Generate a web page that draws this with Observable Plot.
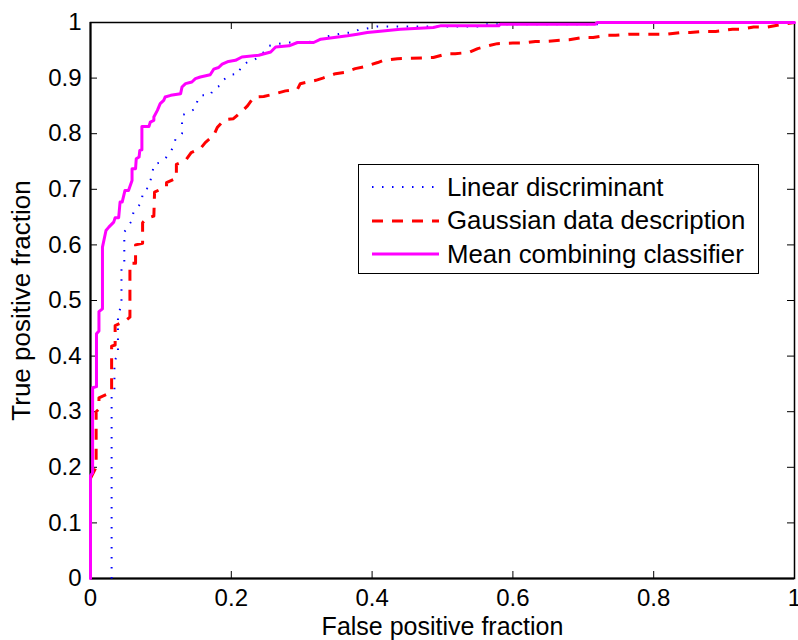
<!DOCTYPE html>
<html>
<head>
<meta charset="utf-8">
<script src="https://cdn.jsdelivr.net/npm/d3@7"></script>
<script src="https://cdn.jsdelivr.net/npm/@observablehq/plot@0.6"></script>
<style>
  html, body { margin: 0; padding: 0; background: #fff; }
  #wrap { position: relative; width: 798px; height: 640px; font-family: "Liberation Sans", Arial, Helvetica, sans-serif; }
  #legend { position: absolute; box-sizing: border-box; background: #fff; border: 1.5px solid #000; }
  .row { position: absolute; left: 0; display: flex; align-items: center; height: 30px; }
  .row span { font-size: 25.8px; color: #000; margin-left: 8px; white-space: nowrap; }
</style>
</head>
<body>
<div id="wrap"></div>
<script>
// ---- Data ----
const seriesNames = ["Linear discriminant", "Gaussian data description", "Mean combining classifier"];
const seriesColors = ["#0000ff", "#ff0000", "#ff00ff"];

const ldFpr = [0.03,0.03,0.034,0.034,0.039,0.039,0.044,0.044,0.048,0.048,0.059,0.061,0.073,0.074,0.082,0.085,0.088,0.09,0.101,0.108,0.114,0.118,0.121,0.13,0.13,0.14,0.149,0.152,0.156,0.17,0.175,0.185,0.189,0.199,0.211,0.213,0.223,0.232,0.241,0.249,0.253,0.265,0.277,0.305,0.317,0.329,0.336,0.348,0.36,0.372,0.381,0.388,0.4,0.407,0.55,0.56,0.72,0.73,1];
const ldTpr = [0,0.33,0.34,0.39,0.405,0.476,0.49,0.558,0.565,0.623,0.644,0.659,0.677,0.695,0.703,0.715,0.73,0.745,0.749,0.758,0.767,0.779,0.791,0.8,0.833,0.839,0.845,0.86,0.869,0.869,0.881,0.887,0.897,0.906,0.908,0.92,0.929,0.932,0.941,0.95,0.958,0.961,0.964,0.964,0.966,0.97,0.975,0.978,0.981,0.982,0.987,0.988,0.991,0.993,0.993,0.997,0.997,1,1];

const gddFpr = [0,0,0.008,0.008,0.012,0.012,0.03,0.03,0.035,0.035,0.048,0.056,0.056,0.064,0.064,0.074,0.074,0.08,0.09,0.091,0.108,0.108,0.122,0.122,0.135,0.143,0.156,0.163,0.175,0.18,0.19,0.203,0.215,0.223,0.232,0.246,0.263,0.277,0.294,0.298,0.32,0.33,0.348,0.36,0.376,0.388,0.408,0.416,0.436,0.487,0.507,0.518,0.537,0.55,0.568,0.578,0.6,0.614,0.632,0.646,0.668,0.68,0.7,0.714,0.734,0.746,0.767,0.82,0.838,0.852,0.87,0.888,0.912,0.923,0.942,0.962,0.985,1];
const gddTpr = [0,0.18,0.2,0.3,0.305,0.325,0.335,0.418,0.42,0.455,0.462,0.47,0.567,0.567,0.6,0.603,0.64,0.648,0.652,0.695,0.705,0.712,0.72,0.745,0.752,0.766,0.773,0.784,0.797,0.811,0.825,0.827,0.84,0.85,0.866,0.867,0.872,0.877,0.88,0.89,0.896,0.9,0.908,0.91,0.917,0.92,0.928,0.932,0.935,0.937,0.944,0.944,0.946,0.953,0.959,0.962,0.963,0.963,0.966,0.966,0.968,0.969,0.973,0.973,0.977,0.977,0.979,0.979,0.982,0.982,0.984,0.984,0.988,0.988,0.992,0.992,0.997,1];

const mccFpr = [0,0,0.003,0.003,0.0085,0.0085,0.012,0.012,0.017,0.017,0.022,0.026,0.033,0.035,0.04,0.042,0.045,0.049,0.054,0.059,0.059,0.064,0.065,0.069,0.07,0.073,0.073,0.083,0.085,0.09,0.09,0.095,0.099,0.104,0.106,0.114,0.128,0.13,0.135,0.144,0.149,0.156,0.17,0.175,0.182,0.187,0.196,0.206,0.215,0.239,0.256,0.263,0.282,0.294,0.317,0.327,0.346,0.365,0.379,0.393,0.408,0.44,0.487,0.497,0.58,0.582,0.717,0.72,1];
const mccTpr = [0,0.185,0.19,0.343,0.345,0.44,0.445,0.48,0.485,0.596,0.626,0.632,0.641,0.649,0.649,0.677,0.677,0.698,0.698,0.716,0.737,0.737,0.755,0.758,0.77,0.771,0.813,0.813,0.821,0.824,0.83,0.842,0.854,0.86,0.866,0.869,0.872,0.884,0.89,0.893,0.899,0.902,0.906,0.916,0.919,0.925,0.93,0.932,0.938,0.941,0.947,0.956,0.958,0.964,0.964,0.97,0.973,0.976,0.979,0.982,0.984,0.988,0.991,0.994,0.994,0.997,0.997,1,1];

const xTicks = [0, 0.2, 0.4, 0.6, 0.8, 1];
const yTicks = [0, 0.1, 0.2, 0.3, 0.4, 0.5, 0.6, 0.7, 0.8, 0.9, 1];
const xLabel = "False positive fraction";
const yLabel = "True positive fraction";

// ---- Build tables ----
const zip = (xs, ys) => xs.map((x, i) => ({x, y: ys[i]}));
const ld = zip(ldFpr, ldTpr);
const gdd = zip(gddFpr, gddTpr);
const mcc = zip(mccFpr, mccTpr);

const W = 798, H = 640, mL = 90, mR = 4, mT = 22, mB = 62;
const plotW = W - mL - mR, plotH = H - mT - mB;
const tick = 7;
const fmt = d => d === 0 ? "0" : d === 1 ? "1" : String(d);

const chart = Plot.plot({
  width: W, height: H,
  marginLeft: mL, marginRight: mR, marginTop: mT, marginBottom: mB,
  style: { fontFamily: '"Liberation Sans", Arial, Helvetica, sans-serif', fontSize: "24px", color: "#000", background: "#fff", overflow: "visible" },
  x: { domain: [0, 1] },
  y: { domain: [0, 1] },
  marks: [
    Plot.frame({ stroke: "#000", strokeWidth: 1.5 }),
    Plot.ruleX([0], { stroke: "#000", strokeWidth: 2 }),
    Plot.ruleY([0], { stroke: "#000", strokeWidth: 2 }),
    // inward ticks (bottom/top/left/right)
    Plot.ruleX(xTicks, { x: d => d, stroke: "#000", strokeWidth: 1, insetTop: plotH - tick }),
    Plot.ruleX(xTicks, { x: d => d, stroke: "#000", strokeWidth: 1, insetBottom: plotH - tick }),
    Plot.ruleY(yTicks, { y: d => d, stroke: "#000", strokeWidth: 1, insetRight: plotW - tick }),
    Plot.ruleY(yTicks, { y: d => d, stroke: "#000", strokeWidth: 1, insetLeft: plotW - tick }),
    Plot.line(ld, { x: "x", y: "y", stroke: seriesColors[0], strokeWidth: 2, strokeDasharray: "1.5,8.5", strokeLinecap: "butt" }),
    Plot.line(gdd, { x: "x", y: "y", stroke: seriesColors[1], strokeWidth: 3, strokeDasharray: "11,9", strokeLinecap: "butt" }),
    Plot.line(mcc, { x: "x", y: "y", stroke: seriesColors[2], strokeWidth: 3 }),
    Plot.axisX(xTicks, { tickSize: 0, tickPadding: 10, tickFormat: fmt, fontSize: 24,
      label: null }),
    Plot.axisX({ ticks: [], tickSize: 0, label: xLabel, labelAnchor: "center", labelOffset: 56, labelArrow: "none", fontSize: 25 }),
    Plot.axisY(yTicks, { tickSize: 0, tickPadding: 9, tickFormat: fmt, fontSize: 24,
      label: null }),
    Plot.axisY({ ticks: [], tickSize: 0, label: yLabel, labelAnchor: "center", labelOffset: 79, labelArrow: "none", fontSize: 26 })
  ]
});

const wrap = document.getElementById("wrap");
wrap.appendChild(chart);

// ---- Legend (overlay inside the axes, as in the reference) ----
const legend = document.createElement("div");
legend.id = "legend";
legend.style.left = "358px";
legend.style.top = "164px";
legend.style.width = "401px";
legend.style.height = "110px";
const dashes = ["1.5,8.5", "11,9", null];
const widths = [2, 3, 3];
seriesNames.forEach((name, i) => {
  const row = document.createElement("div");
  row.className = "row";
  row.style.top = (7 + i * 33.5) + "px";
  row.style.left = "13px";
  const svg = d3.create("svg").attr("width", 67).attr("height", 30);
  svg.append("line").attr("x1", 0).attr("x2", 67).attr("y1", 15).attr("y2", 15)
    .attr("stroke", seriesColors[i]).attr("stroke-width", widths[i])
    .attr("stroke-dasharray", dashes[i]);
  row.appendChild(svg.node());
  const span = document.createElement("span");
  span.textContent = name;
  row.appendChild(span);
  legend.appendChild(row);
});
wrap.appendChild(legend);
</script>
</body>
</html>
